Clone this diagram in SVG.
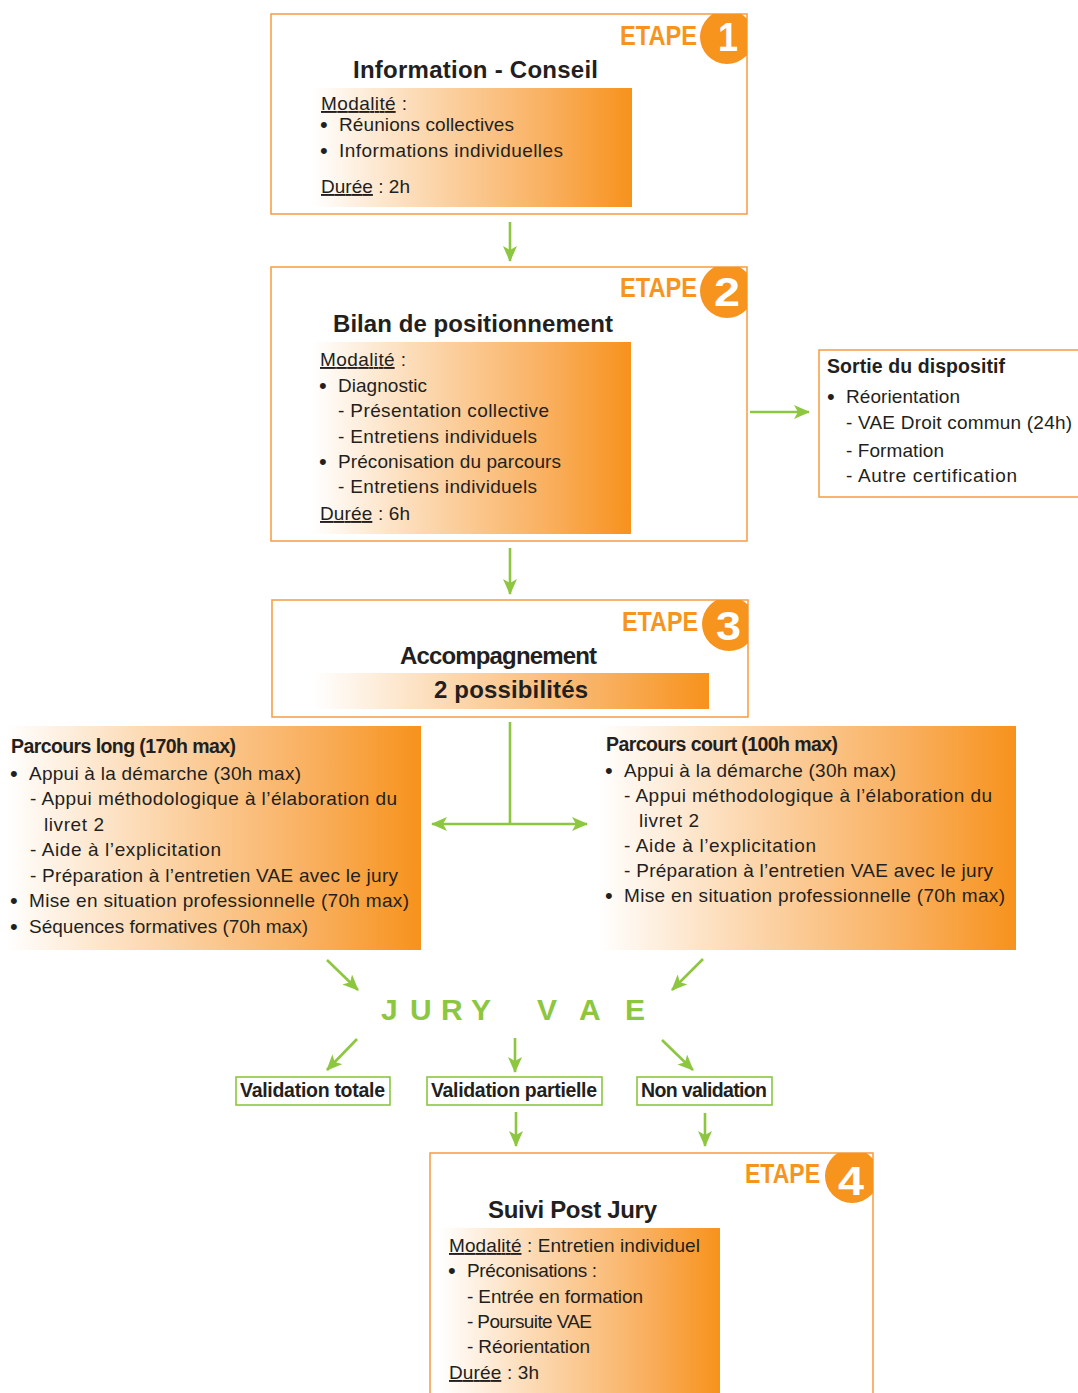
<svg xmlns="http://www.w3.org/2000/svg" width="1078" height="1393" viewBox="0 0 1078 1393">
<style>
text{font-family:"Liberation Sans",Arial,sans-serif;fill:#231F20}
.b{font-size:19px}
.t{font-size:24px;font-weight:bold}
.h{font-size:19.5px;font-weight:bold}
.etape{font-size:28px;font-weight:bold;fill:#F7941D}
.num{font-size:40px;font-weight:bold;fill:#FFFFFF}
.jury{font-size:30px;font-weight:bold;fill:#8DC63F}
.d{font-size:22px}
.box{fill:#FFFFFF;stroke:#F7A24A;stroke-width:1.6}
.gbox{fill:#FFFFFF;stroke:#8DC63F;stroke-width:1.6}
.conn path{fill:none;stroke:#8DC63F;stroke-width:2.6}
</style>
<defs>
<linearGradient id="og" x1="0" y1="0" x2="1" y2="0">
<stop offset="0" stop-color="#FFFFFF"/>
<stop offset="0.35" stop-color="#FCD8B0"/>
<stop offset="0.75" stop-color="#F9AE5C"/>
<stop offset="1" stop-color="#F7921C"/>
</linearGradient>
<marker id="ah" viewBox="0 0 16 14" refX="15" refY="7" markerWidth="16" markerHeight="14" markerUnits="userSpaceOnUse" orient="auto">
<path d="M0,0 L16,7 L0,14 L4,7 Z" fill="#8DC63F"/>
</marker>
<clipPath id="c1"><rect x="271" y="14" width="476" height="200"/></clipPath>
<clipPath id="c2"><rect x="271" y="267" width="476" height="274"/></clipPath>
<clipPath id="c3"><rect x="272" y="600" width="476" height="117"/></clipPath>
<clipPath id="c4"><rect x="430" y="1153" width="443" height="260"/></clipPath>
</defs>
<rect width="1078" height="1393" fill="#FFFFFF"/>

<g id="etape1">
<rect class="box" x="271" y="14" width="476" height="200"/>
<circle cx="727" cy="37" r="27" fill="#F7941D" clip-path="url(#c1)"/>
<text class="etape" x="620" y="45" textLength="77" lengthAdjust="spacingAndGlyphs">ETAPE</text>
<text class="num" x="718" y="51" textLength="20" lengthAdjust="spacingAndGlyphs">1</text>
<text class="t" x="353" y="78" textLength="245">Information - Conseil</text>
<rect x="312" y="88" width="320" height="119" fill="url(#og)"/>
<text class="b" x="321" y="110" textLength="86"><tspan text-decoration="underline">Modalité</tspan> :</text>
<text class="b" x="320" y="131"><tspan class="d" dy="1">•</tspan><tspan x="339" dy="-1" textLength="175">Réunions collectives</tspan></text>
<text class="b" x="320" y="157"><tspan class="d" dy="1">•</tspan><tspan x="339" dy="-1" textLength="224">Informations individuelles</tspan></text>
<text class="b" x="321" y="193" textLength="89"><tspan text-decoration="underline">Durée</tspan> : 2h</text>
</g>

<g id="etape2">
<rect class="box" x="271" y="267" width="476" height="274"/>
<circle cx="727" cy="291" r="27" fill="#F7941D" clip-path="url(#c2)"/>
<text class="etape" x="620" y="297" textLength="77" lengthAdjust="spacingAndGlyphs">ETAPE</text>
<text class="num" x="714" y="306" textLength="26" lengthAdjust="spacingAndGlyphs">2</text>
<text class="t" x="333" y="332" textLength="280">Bilan de positionnement</text>
<rect x="312" y="342" width="319" height="192" fill="url(#og)"/>
<text class="b" x="320" y="366" textLength="86"><tspan text-decoration="underline">Modalité</tspan> :</text>
<text class="b" x="319" y="392"><tspan class="d" dy="1">•</tspan><tspan x="338" dy="-1" textLength="89">Diagnostic</tspan></text>
<text class="b" x="338" y="417" textLength="211">- Présentation collective</text>
<text class="b" x="338" y="443" textLength="199">- Entretiens individuels</text>
<text class="b" x="319" y="468"><tspan class="d" dy="1">•</tspan><tspan x="338" dy="-1" textLength="223">Préconisation du parcours</tspan></text>
<text class="b" x="338" y="493" textLength="199">- Entretiens individuels</text>
<text class="b" x="320" y="520" textLength="90"><tspan text-decoration="underline">Durée</tspan> : 6h</text>
</g>

<g id="sortie">
<rect class="box" x="819" y="350" width="270" height="147"/>
<text class="h" x="827" y="373" textLength="178">Sortie du dispositif</text>
<text class="b" x="827" y="403"><tspan class="d" dy="1">•</tspan><tspan x="846" dy="-1" textLength="114">Réorientation</tspan></text>
<text class="b" x="846" y="429" textLength="226">- VAE Droit commun (24h)</text>
<text class="b" x="846" y="457" textLength="98">- Formation</text>
<text class="b" x="846" y="482" textLength="171">- Autre certification</text>
</g>

<g id="etape3">
<rect class="box" x="272" y="600" width="476" height="117"/>
<circle cx="729" cy="624" r="27" fill="#F7941D" clip-path="url(#c3)"/>
<text class="etape" x="622" y="631" textLength="76" lengthAdjust="spacingAndGlyphs">ETAPE</text>
<text class="num" x="716" y="640" textLength="25" lengthAdjust="spacingAndGlyphs">3</text>
<text class="t" x="400" y="664" textLength="197">Accompagnement</text>
<rect x="313" y="673" width="396" height="36" fill="url(#og)"/>
<text class="t" x="434" y="698" textLength="154">2 possibilités</text>
</g>

<g id="parcours-long">
<rect x="5" y="726" width="416" height="224" fill="url(#og)"/>
<text class="h" x="11" y="753" textLength="225">Parcours long (170h max)</text>
<text class="b" x="10" y="780"><tspan class="d" dy="1">•</tspan><tspan x="29" dy="-1" textLength="272">Appui à la démarche (30h max)</tspan></text>
<text class="b" x="30" y="805" textLength="367">- Appui méthodologique à l’élaboration du</text>
<text class="b" x="44" y="831" textLength="60">livret 2</text>
<text class="b" x="30" y="856" textLength="191">- Aide à l’explicitation</text>
<text class="b" x="30" y="882" textLength="368">- Préparation à l’entretien VAE avec le jury</text>
<text class="b" x="10" y="907"><tspan class="d" dy="1">•</tspan><tspan x="29" dy="-1" textLength="380">Mise en situation professionnelle (70h max)</tspan></text>
<text class="b" x="10" y="933"><tspan class="d" dy="1">•</tspan><tspan x="29" dy="-1" textLength="279">Séquences formatives (70h max)</tspan></text>
</g>

<g id="parcours-court">
<rect x="597" y="726" width="419" height="224" fill="url(#og)"/>
<text class="h" x="606" y="751" textLength="232">Parcours court (100h max)</text>
<text class="b" x="605" y="777"><tspan class="d" dy="1">•</tspan><tspan x="624" dy="-1" textLength="272">Appui à la démarche (30h max)</tspan></text>
<text class="b" x="624" y="802" textLength="368">- Appui méthodologique à l’élaboration du</text>
<text class="b" x="639" y="827" textLength="60">livret 2</text>
<text class="b" x="624" y="852" textLength="192">- Aide à l’explicitation</text>
<text class="b" x="624" y="877" textLength="369">- Préparation à l’entretien VAE avec le jury</text>
<text class="b" x="605" y="902"><tspan class="d" dy="1">•</tspan><tspan x="624" dy="-1" textLength="381">Mise en situation professionnelle (70h max)</tspan></text>
</g>

<g id="jury">
<text class="jury" x="381" y="1020">J</text>
<text class="jury" x="410" y="1020">U</text>
<text class="jury" x="441" y="1020">R</text>
<text class="jury" x="471" y="1020">Y</text>
<text class="jury" x="537" y="1020">V</text>
<text class="jury" x="579" y="1020">A</text>
<text class="jury" x="625" y="1020">E</text>
</g>

<g id="validation-totale">
<rect class="gbox" x="236" y="1077" width="154" height="28"/>
<text class="h" x="240" y="1097" textLength="145">Validation totale</text>
</g>
<g id="validation-partielle">
<rect class="gbox" x="427" y="1077" width="175" height="28"/>
<text class="h" x="431" y="1097" textLength="166">Validation partielle</text>
</g>
<g id="non-validation">
<rect class="gbox" x="637" y="1077" width="135" height="28"/>
<text class="h" x="641" y="1097" textLength="126">Non validation</text>
</g>

<g id="etape4">
<rect class="box" x="430" y="1153" width="443" height="260"/>
<circle cx="852" cy="1176" r="27" fill="#F7941D" clip-path="url(#c4)"/>
<text class="etape" x="745" y="1183" textLength="75" lengthAdjust="spacingAndGlyphs">ETAPE</text>
<text class="num" x="838" y="1195" textLength="26" lengthAdjust="spacingAndGlyphs">4</text>
<text class="t" x="488" y="1218" textLength="169">Suivi Post Jury</text>
<rect x="439" y="1228" width="281" height="170" fill="url(#og)"/>
<text class="b" x="449" y="1252" textLength="251"><tspan text-decoration="underline">Modalité</tspan> : Entretien individuel</text>
<text class="b" x="448" y="1277"><tspan class="d" dy="1">•</tspan><tspan x="467" dy="-1" textLength="130">Préconisations :</tspan></text>
<text class="b" x="467" y="1303" textLength="176">- Entrée en formation</text>
<text class="b" x="467" y="1328" textLength="125">- Poursuite VAE</text>
<text class="b" x="467" y="1353" textLength="123">- Réorientation</text>
<text class="b" x="449" y="1379" textLength="90"><tspan text-decoration="underline">Durée</tspan> : 3h</text>
</g>

<g id="connectors" class="conn">
<path d="M510,222 V261" marker-end="url(#ah)"/>
<path d="M510,548 V594" marker-end="url(#ah)"/>
<path d="M750,412 H809" marker-end="url(#ah)"/>
<path d="M510,722 V824"/>
<path d="M510,824 H432" marker-end="url(#ah)"/>
<path d="M510,824 H587" marker-end="url(#ah)"/>
<path d="M327,960 L358,990" marker-end="url(#ah)"/>
<path d="M703,959 L672,990" marker-end="url(#ah)"/>
<path d="M357,1039 L327,1070" marker-end="url(#ah)"/>
<path d="M515,1038 V1072" marker-end="url(#ah)"/>
<path d="M662,1040 L693,1070" marker-end="url(#ah)"/>
<path d="M516,1112 V1146" marker-end="url(#ah)"/>
<path d="M705,1113 V1146" marker-end="url(#ah)"/>
</g>
</svg>
